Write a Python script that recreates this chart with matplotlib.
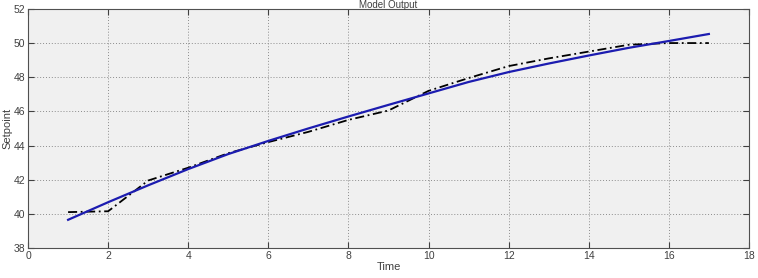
import matplotlib
matplotlib.use('Agg')
import matplotlib.pyplot as plt

# dados
tempo = [1, 2, 3, 4, 5, 6, 7, 8, 9, 10, 11, 12, 13, 14, 15, 16, 17]
setpoint_modelo = [39.65, 40.68, 41.67, 42.62, 43.5, 44.27, 45.0, 45.7, 46.38,
                   47.05, 47.72, 48.3, 48.8, 49.27, 49.72, 50.12, 50.53]
setpoint_medido = [40.1, 40.15, 41.95, 42.7, 43.55, 44.2, 44.8, 45.5, 46.05,
                   47.2, 47.95, 48.65, 49.1, 49.5, 49.9, 50.0, 50.0]
xticks = [0, 2, 4, 6, 8, 10, 12, 14, 16, 18]
yticks = [38, 40, 42, 44, 46, 48, 50, 52]

plt.rcParams['font.family'] = ['Liberation Sans', 'DejaVu Sans']

fig = plt.figure(figsize=(7.58, 2.78), dpi=100)
ax = fig.add_axes([0.037, 0.108, 0.951, 0.86])
ax.set_facecolor('#f0f0f0')

ax.plot(tempo, setpoint_medido, color='black', linestyle=(0, (5, 2, 1, 2)), linewidth=1.3)
ax.plot(tempo, setpoint_modelo, color='#1c1cb0', linestyle='-', linewidth=1.6)

ax.set_xlim(0, 18)
ax.set_ylim(38, 52)
ax.set_xticks(xticks)
ax.set_yticks(yticks)
ax.grid(True, linestyle=(0, (1, 2)), color='#8c8c8c', linewidth=0.7)
ax.tick_params(direction='in', top=True, right=True, labelsize=7.5,
               colors='#404040', length=4, pad=2)
for s in ax.spines.values():
    s.set_color('#505050')
    s.set_linewidth(0.8)

ax.set_xlabel('Time', fontsize=8, color='#404040', labelpad=1)
ax.set_ylabel('Setpoint', fontsize=8, color='#404040', labelpad=1)
fig.text(0.512, 1.0, 'Model Output', ha='center', va='top',
         fontsize=7, color='#404040')

plt.savefig('out.png', dpi=100)
